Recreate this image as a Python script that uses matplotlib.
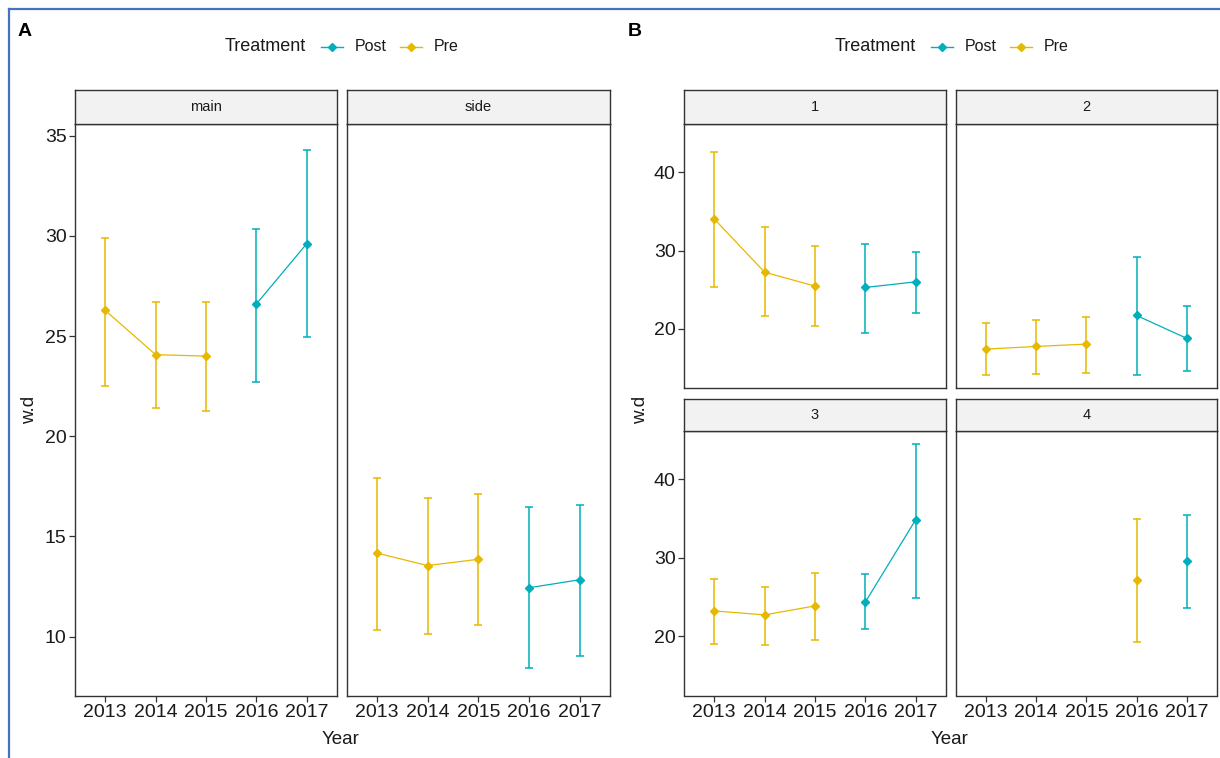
import matplotlib
matplotlib.use("Agg")
import matplotlib.pyplot as plt
from matplotlib.lines import Line2D
import numpy as np

plt.rcParams['font.family'] = ['Liberation Sans', 'DejaVu Sans']

# ---------------- data ----------------
years = [2013, 2014, 2015, 2016, 2017]
pre_years = [2013, 2014, 2015]
post_years = [2016, 2017]

# Panel A
a_main_pre_mean = [26.28, 24.07, 24.00]
a_main_pre_lo = [22.50, 21.42, 21.27]
a_main_pre_hi = [29.91, 26.70, 26.70]
a_main_post_mean = [26.60, 29.61]
a_main_post_lo = [22.69, 24.95]
a_main_post_hi = [30.36, 34.28]

a_side_pre_mean = [14.17, 13.55, 13.86]
a_side_pre_lo = [10.33, 10.13, 10.58]
a_side_pre_hi = [17.92, 16.90, 17.10]
a_side_post_mean = [12.44, 12.84]
a_side_post_lo = [8.42, 9.04]
a_side_post_hi = [16.45, 16.58]

# Panel B
b1_pre_mean = [34.04, 27.23, 25.45]
b1_pre_lo = [25.40, 21.60, 20.30]
b1_pre_hi = [42.55, 33.00, 30.55]
b1_post_mean = [25.28, 26.00]
b1_post_lo = [19.50, 21.96]
b1_post_hi = [30.85, 29.87]

b2_pre_mean = [17.40, 17.74, 18.04]
b2_pre_lo = [14.04, 14.20, 14.38]
b2_pre_hi = [20.80, 21.15, 21.45]
b2_post_mean = [21.70, 18.77]
b2_post_lo = [14.04, 14.55]
b2_post_hi = [29.19, 22.94]

b3_pre_mean = [23.22, 22.71, 23.86]
b3_pre_lo = [19.03, 18.86, 19.53]
b3_pre_hi = [27.25, 26.23, 28.09]
b3_post_mean = [24.36, 34.87]
b3_post_lo = [20.85, 24.92]
b3_post_hi = [27.92, 44.49]

b4_pre_years = [2016]
b4_pre_mean = [27.16]
b4_pre_lo = [19.20]
b4_pre_hi = [35.00]
b4_post_years = [2017]
b4_post_mean = [29.62]
b4_post_lo = [23.64]
b4_post_hi = [35.47]

treatments = ['Post', 'Pre']
a_facets = ['main', 'side']
b_facets = ['1', '2', '3', '4']
a_yticks = [10, 15, 20, 25, 30, 35]
b_yticks = [20, 30, 40]

# ---------------- style ----------------
COL = {'Post': '#00AFBB', 'Pre': '#E7B800'}
W, H = 1220, 758
fig = plt.figure(figsize=(W / 100, H / 100), dpi=100)
fig.patch.set_facecolor('white')
BORDER = '#333333'
TXT = '#1a1a1a'


def px_axes(l, t, r, b):
    return fig.add_axes([l / W, 1 - b / H, (r - l) / W, (b - t) / H])


def fx(x):
    return x / W


def fy(y):
    return 1 - y / H


def strip(l, t, r, b, label):
    s = px_axes(l, t, r, b)
    s.set_facecolor('#F2F2F2')
    s.set_xticks([])
    s.set_yticks([])
    for sp in s.spines.values():
        sp.set_color(BORDER)
        sp.set_linewidth(1.0)
    s.text(0.5, 0.5, label, ha='center', va='center', fontsize=10.5,
           color=TXT, transform=s.transAxes)


def draw_series(ax, yrs, mean, lo, hi, treat):
    x = np.array([years.index(y) + 1 for y in yrs])
    m = np.array(mean)
    err = [m - np.array(lo), np.array(hi) - m]
    c = COL[treat]
    ax.errorbar(x, m, yerr=err, fmt='none', ecolor=c, elinewidth=1.1,
                capsize=2.8, capthick=1.1, zorder=2)
    ax.plot(x, m, '-', color=c, lw=0.9, marker='D', ms=4.0, zorder=3)


def panel(l, t, r, b, ylim, yticks, show_y, show_x):
    ax = px_axes(l, t, r, b)
    ax.set_xlim(0.4, 5.6)
    ax.set_ylim(*ylim)
    for sp in ax.spines.values():
        sp.set_color(BORDER)
        sp.set_linewidth(1.0)
    ax.set_yticks(yticks)
    ax.set_xticks(range(1, 6))
    ax.tick_params(axis='both', direction='out', length=4, width=0.9,
                   color=BORDER, labelsize=14, labelcolor=TXT, pad=2)
    if show_x:
        ax.set_xticklabels([str(y) for y in years])
    else:
        ax.tick_params(axis='x', length=0, labelbottom=False)
    if not show_y:
        ax.tick_params(axis='y', length=0, labelleft=False)
    return ax


# ---------------- Panel A ----------------
a_ylim = (7.04, 35.58)
a_boxes = [(75, 124, 337, 696), (346.5, 124, 610, 696)]
a_data = [
    (a_main_pre_mean, a_main_pre_lo, a_main_pre_hi,
     a_main_post_mean, a_main_post_lo, a_main_post_hi),
    (a_side_pre_mean, a_side_pre_lo, a_side_pre_hi,
     a_side_post_mean, a_side_post_lo, a_side_post_hi),
]
for i, (box, name, d) in enumerate(zip(a_boxes, a_facets, a_data)):
    l, t, r, b = box
    ax = panel(l, t, r, b, a_ylim, a_yticks, show_y=(i == 0), show_x=True)
    draw_series(ax, pre_years, d[0], d[1], d[2], 'Pre')
    draw_series(ax, post_years, d[3], d[4], d[5], 'Post')
    strip(l, 90, r, t, name)

# ---------------- Panel B ----------------
b_ylim = (12.43, 46.17)
b_boxes = [(684, 124, 946, 388), (955.5, 124, 1217, 388),
           (684, 431, 946, 695.5), (955.5, 431, 1217, 695.5)]
b_strip_tops = [90, 90, 399, 399]
b_data = [
    (pre_years, b1_pre_mean, b1_pre_lo, b1_pre_hi,
     post_years, b1_post_mean, b1_post_lo, b1_post_hi),
    (pre_years, b2_pre_mean, b2_pre_lo, b2_pre_hi,
     post_years, b2_post_mean, b2_post_lo, b2_post_hi),
    (pre_years, b3_pre_mean, b3_pre_lo, b3_pre_hi,
     post_years, b3_post_mean, b3_post_lo, b3_post_hi),
    (b4_pre_years, b4_pre_mean, b4_pre_lo, b4_pre_hi,
     b4_post_years, b4_post_mean, b4_post_lo, b4_post_hi),
]
for i, (box, st, name, d) in enumerate(zip(b_boxes, b_strip_tops, b_facets, b_data)):
    l, t, r, b = box
    ax = panel(l, t, r, b, b_ylim, b_yticks, show_y=(i % 2 == 0), show_x=(i >= 2))
    draw_series(ax, d[0], d[1], d[2], d[3], 'Pre')
    draw_series(ax, d[4], d[5], d[6], d[7], 'Post')
    strip(l, st, r, t, name)

# ---------------- labels ----------------
fig.text(fx(18), fy(32), 'A', fontsize=14, fontweight='bold', ha='left', va='center')
fig.text(fx(628), fy(31), 'B', fontsize=14, fontweight='bold', ha='left', va='center')

for xc in (341, 950):
    fig.text(fx(xc), fy(740), 'Year', fontsize=13.5, ha='center', va='center', color=TXT)
for xc in (30, 641):
    fig.text(fx(xc), fy(410), 'w.d', fontsize=13.5, ha='center', va='center',
             rotation=90, color=TXT)

# legends (drawn as figure artists)
for tr_right in (306, 916):
    ly = 46.7
    fig.text(fx(tr_right), fy(ly), 'Treatment', fontsize=13, ha='right',
             va='center', color=TXT)
    x0 = tr_right + 15
    for treat in treatments:
        c = COL[treat]
        fig.add_artist(Line2D([fx(x0), fx(x0 + 22)], [fy(ly), fy(ly)],
                              color=c, lw=1.0, transform=fig.transFigure))
        fig.add_artist(Line2D([fx(x0 + 11)], [fy(ly)], color=c, marker='D',
                              ms=3.6, lw=0, transform=fig.transFigure))
        fig.text(fx(x0 + 34), fy(ly), treat, fontsize=11.5, ha='left',
                 va='center', color=TXT)
        x0 += 79

# outer blue frame (top & left edges visible)
fig.add_artist(Line2D([fx(9), fx(W)], [fy(9), fy(9)], color='#4472C4', lw=1.6,
                      transform=fig.transFigure))
fig.add_artist(Line2D([fx(9), fx(9)], [fy(9), fy(H)], color='#4472C4', lw=1.6,
                      transform=fig.transFigure))

fig.savefig('out.png', dpi=100, facecolor='white')
